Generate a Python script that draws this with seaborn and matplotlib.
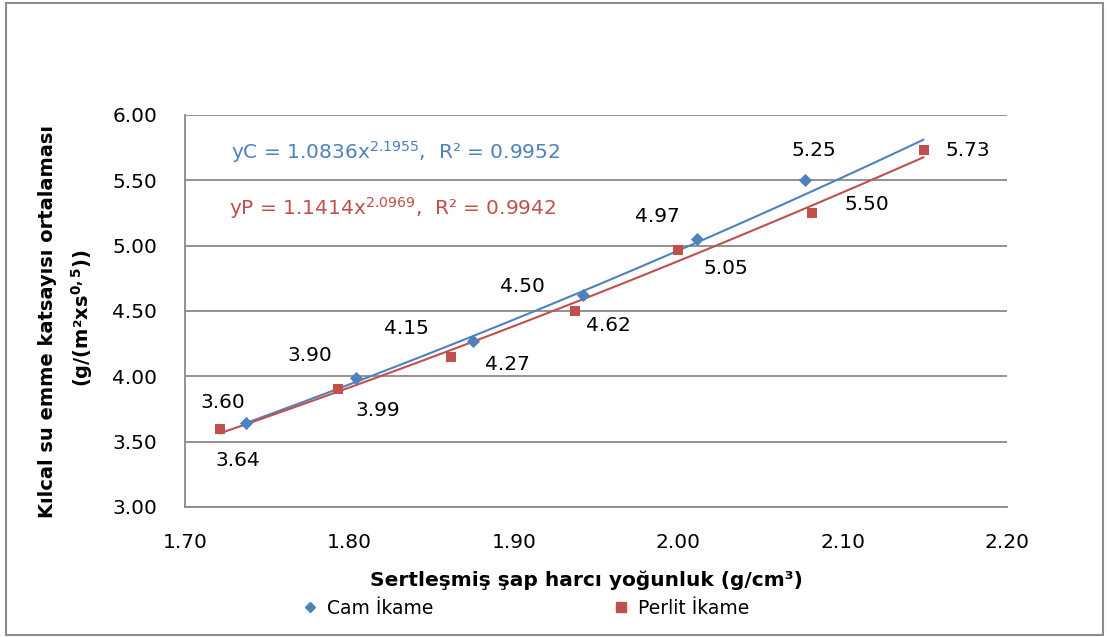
import numpy as np
import pandas as pd
import matplotlib
matplotlib.use("Agg")
import matplotlib.pyplot as plt
import seaborn as sns
from matplotlib.lines import Line2D
from matplotlib.patches import Rectangle

# --- data -------------------------------------------------------------
series_names = ["Cam İkame", "Perlit İkame"]

cam_yogunluk = [1.737, 1.804, 1.875, 1.942, 2.011, 2.077]
cam_kilcal = [3.64, 3.99, 4.27, 4.62, 5.05, 5.50]

perlit_yogunluk = [1.721, 1.793, 1.862, 1.937, 2.000, 2.081, 2.149]
perlit_kilcal = [3.60, 3.90, 4.15, 4.50, 4.97, 5.25, 5.73]

# power trendlines y = a * x^b with R^2
cam_fit = (1.0836, 2.1955, 0.9952)
perlit_fit = (1.1414, 2.0969, 0.9942)

x_ticks = [1.70, 1.80, 1.90, 2.00, 2.10, 2.20]
y_ticks = [3.00, 3.50, 4.00, 4.50, 5.00, 5.50, 6.00]

# --- style ------------------------------------------------------------
sns.set_theme(style="white")
plt.rcParams["font.family"] = ["DejaVu Sans"]
plt.rcParams["mathtext.fontset"] = "dejavusans"
plt.rcParams["text.color"] = "black"

BLUE = "#4F81BD"
RED = "#C0504D"
GRID = "#8A8A8A"
FS = 14.5

fig = plt.figure(figsize=(11.07, 6.37), dpi=100)
ax = fig.add_axes([185 / 1107, 1 - 507 / 637, (1007.5 - 185) / 1107, (507 - 115) / 637])

pts = pd.DataFrame({
    "x": cam_yogunluk + perlit_yogunluk,
    "y": cam_kilcal + perlit_kilcal,
    "seri": [series_names[0]] * len(cam_yogunluk) + [series_names[1]] * len(perlit_yogunluk),
})

# trendlines drawn from the fitted equations
x_end = max(perlit_yogunluk)
trend_rows = []
for name, xs, (a, b, _) in [(series_names[0], cam_yogunluk, cam_fit),
                             (series_names[1], perlit_yogunluk, perlit_fit)]:
    xx = np.linspace(min(xs), x_end, 120)
    trend_rows.append(pd.DataFrame({"x": xx, "y": a * xx ** b, "seri": name}))
trend = pd.concat(trend_rows, ignore_index=True)

palette = {series_names[0]: BLUE, series_names[1]: RED}
sns.lineplot(data=trend, x="x", y="y", hue="seri", palette=palette,
             linewidth=1.5, legend=False, ax=ax, zorder=3)
sns.scatterplot(data=pts[pts.seri == series_names[0]], x="x", y="y", color=BLUE,
                marker="D", s=45, linewidth=0, legend=False, ax=ax, zorder=4)
sns.scatterplot(data=pts[pts.seri == series_names[1]], x="x", y="y", color=RED,
                marker="s", s=55, linewidth=0, legend=False, ax=ax, zorder=4)

# data labels (pixel offsets from each marker)
cam_offsets = [(-8, -37), (22, -33), (35, -23), (25, -30), (29, -29), (62, -24)]
perlit_offsets = [(3, 26), (-28, 34), (-45, 28), (-52, 25), (-21, 33), (2, 63), (44, 0)]
for xs, ys, offs in [(cam_yogunluk, cam_kilcal, cam_offsets),
                     (perlit_yogunluk, perlit_kilcal, perlit_offsets)]:
    for x, y, (dx, dy) in zip(xs, ys, offs):
        ax.annotate(f"{y:.2f}", (x, y), xytext=(dx, dy), textcoords="offset pixels",
                    ha="center", va="center", fontsize=FS, color="black", zorder=5)

# trendline equations
ax.text(231 / 1107, 1 - 152 / 637,
        r"yC = 1.0836x$^{\mathregular{2.1955}}$,  R² = 0.9952",
        transform=fig.transFigure, color=BLUE, fontsize=FS, va="center", ha="left")
ax.text(229 / 1107, 1 - 208 / 637,
        r"yP = 1.1414x$^{\mathregular{2.0969}}$,  R² = 0.9942",
        transform=fig.transFigure, color=RED, fontsize=FS, va="center", ha="left")

# axes
ax.set_xlim(x_ticks[0], x_ticks[-1])
ax.set_ylim(y_ticks[0], y_ticks[-1])
ax.set_xticks(x_ticks)
ax.set_yticks(y_ticks)
ax.set_xticklabels([f"{v:.2f}" for v in x_ticks])
ax.set_yticklabels([f"{v:.2f}" for v in y_ticks])
ax.tick_params(axis="x", length=0, pad=19, labelsize=FS, colors="black")
ax.tick_params(axis="y", length=9, width=1.3, pad=11, labelsize=FS, color=GRID, labelcolor="black")
ax.yaxis.grid(True, color=GRID, linewidth=1.3)
ax.xaxis.grid(False)
for side in ["top", "right"]:
    ax.spines[side].set_visible(False)
for side in ["left", "bottom"]:
    ax.spines[side].set_color(GRID)
    ax.spines[side].set_linewidth(1.3)
ax.set_xlabel("")
ax.set_ylabel("")

fig.text(586 / 1107, 1 - 580 / 637, "Sertleşmiş şap harcı yoğunluk (g/cm³)",
         ha="center", va="center", fontsize=14.5, fontweight="bold", color="black")
fig.text(48 / 1107, 1 - 322 / 637, "Kılcal su emme katsayısı ortalaması",
         ha="center", va="center", rotation=90, fontsize=14, fontweight="bold", color="black")
fig.text(82 / 1107, 1 - 318 / 637, r"(g/(m²xs$^{\mathbf{0,5}}$))",
         ha="center", va="center", rotation=90, fontsize=14, fontweight="bold", color="black")

# legend
handles = [Line2D([], [], marker="D", color=BLUE, linestyle="none", markersize=5),
           Line2D([], [], marker="s", color=RED, linestyle="none", markersize=7)]
fig.legend(handles, series_names, ncol=2, loc="center",
           bbox_to_anchor=(526 / 1107, 1 - 608 / 637), frameon=False,
           fontsize=13.5, handlelength=0.8, handletextpad=0.5, columnspacing=9.6)

# chart border
fig.patches.append(Rectangle((6 / 1107, 1 - 635 / 637), (1103 - 6) / 1107, (635 - 3) / 637,
                             transform=fig.transFigure, fill=False,
                             edgecolor="#8C8C8C", linewidth=1.5))

fig.savefig("out.png", dpi=100)
